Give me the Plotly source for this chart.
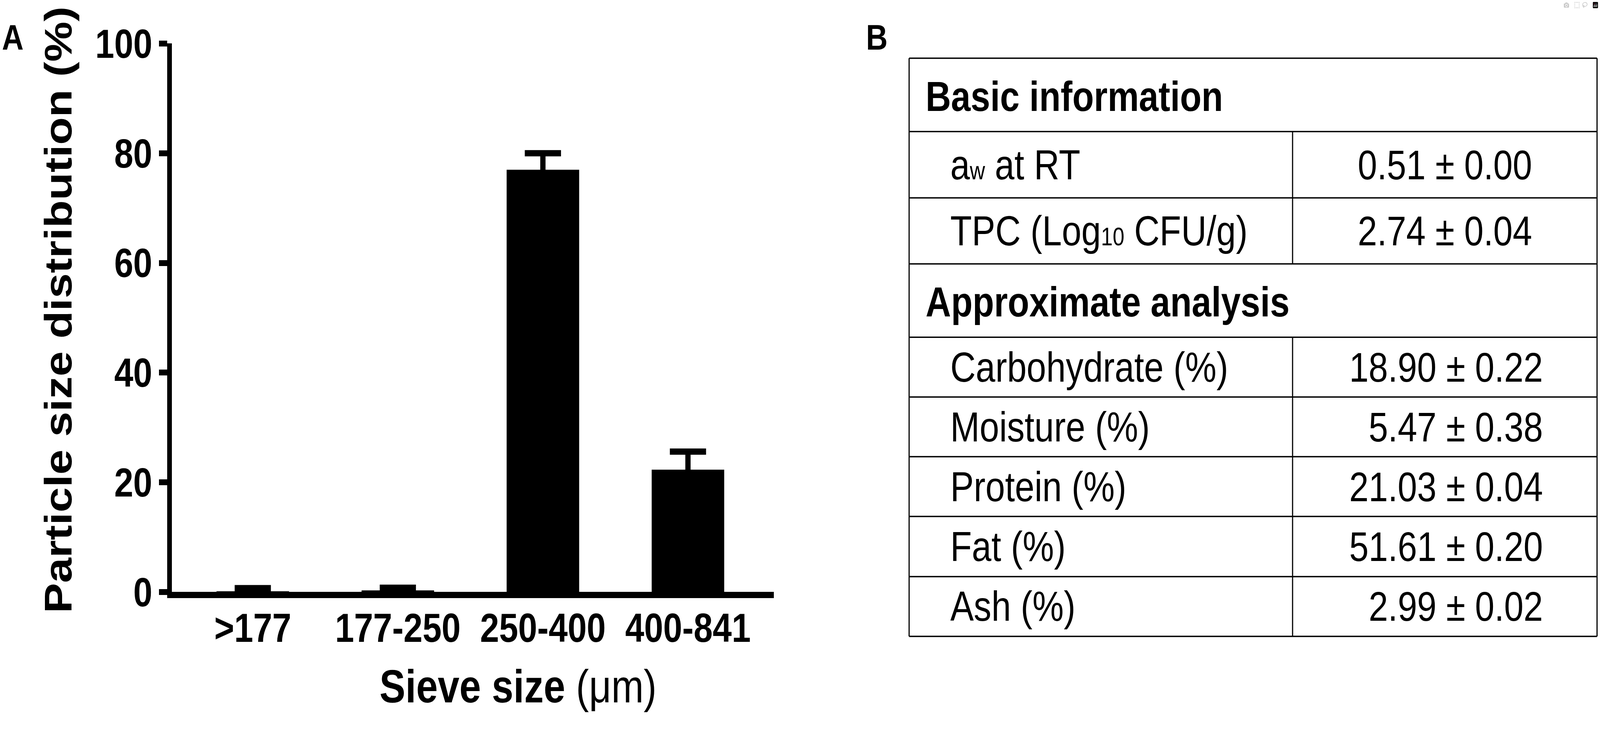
import plotly.graph_objects as go

# ---------------- data ----------------
categories = [">177", "177-250", "250-400", "400-841"]
means = [0.1, 0.3, 77.0, 22.3]
errors = [0.6, 0.47, 3.0, 3.3]
y_ticks = [0, 20, 40, 60, 80, 100]

table_labels = [
    "Basic information",
    "a<span style='font-size:64px'>w</span> at RT",
    "TPC (Log<span style='font-size:64px'>10</span> CFU/g)",
    "Approximate analysis",
    "Carbohydrate (%)",
    "Moisture (%)",
    "Protein (%)",
    "Fat (%)",
    "Ash (%)",
]
table_values = [None, "0.51 ± 0.00", "2.74 ± 0.04", None,
                "18.90 ± 0.22", "5.47 ± 0.38", "21.03 ± 0.04",
                "51.61 ± 0.20", "2.99 ± 0.02"]
table_header = [True, False, False, True, False, False, False, False, False]

# ---------------- layout constants ----------------
W, H = 4861, 1884
FONT = "Liberation Sans, Arial, Helvetica, sans-serif"
PL, PR, PT, PB = 522.5, 2351, 57, 1553        # bar plot area (px)
TL, TR, TT = 2762, 4852, 97                    # table box (px)
ROW_H = [200, 181, 180, 200, 163, 163, 163, 164, 163]
COL_X = 3927
TB = TT + sum(ROW_H)

fig = go.Figure()

fig.add_trace(go.Bar(
    x=categories, y=means, width=0.5,
    marker=dict(color="black", line=dict(width=0)),
    xaxis="x", yaxis="y", showlegend=False, hoverinfo="skip",
))

# error bars (upper only): stem from the base to mean+error
fig.add_trace(go.Scatter(
    x=categories, y=[0] * len(means), mode="markers",
    marker=dict(size=1, opacity=0),
    error_y=dict(type="data", symmetric=False,
                 array=[m + e for m, e in zip(means, errors)],
                 arrayminus=[0] * len(means), color="black",
                 thickness=16, width=55),
    xaxis="x", yaxis="y", showlegend=False, hoverinfo="skip",
))

# invisible helper trace for table axes
fig.add_trace(go.Scatter(x=[TL], y=[TT], mode="markers",
                         marker=dict(opacity=0), xaxis="x2", yaxis="y2",
                         showlegend=False, hoverinfo="skip"))

shapes = []
annotations = []

bounds = [TT]
for h in ROW_H:
    bounds.append(bounds[-1] + h)
lw = 3.5
for yb in bounds:
    shapes.append(dict(type="line", xref="x2", yref="y2", x0=TL, x1=TR,
                       y0=yb, y1=yb, line=dict(color="black", width=lw)))
for xv in (TL, TR):
    shapes.append(dict(type="line", xref="x2", yref="y2", x0=xv, x1=xv,
                       y0=TT, y1=TB, line=dict(color="black", width=lw)))
for i, hdr in enumerate(table_header):
    if not hdr:
        shapes.append(dict(type="line", xref="x2", yref="y2", x0=COL_X, x1=COL_X,
                           y0=bounds[i], y1=bounds[i + 1],
                           line=dict(color="black", width=lw)))

section = 0
for i, (lab, val, hdr) in enumerate(zip(table_labels, table_values, table_header)):
    yc = (bounds[i] + bounds[i + 1]) / 2
    if hdr:
        section += 1
        annotations.append(dict(xref="x2", yref="y2", x=2810, y=yc + 4,
                                text=lab, showarrow=False, xanchor="left",
                                yanchor="middle",
                                font=dict(family=FONT, size=107, color="black",
                                          weight="bold")))
    else:
        annotations.append(dict(xref="x2", yref="y2", x=2885, y=yc,
                                text=lab, showarrow=False, xanchor="left",
                                yanchor="middle",
                                font=dict(family=FONT, size=107, color="black")))
        if section == 1:
            annotations.append(dict(xref="x2", yref="y2", x=(COL_X + TR) / 2, y=yc,
                                    text=val, showarrow=False, xanchor="center",
                                    yanchor="middle",
                                    font=dict(family=FONT, size=106, color="black")))
        else:
            annotations.append(dict(xref="x2", yref="y2", x=4690, y=yc,
                                    text=val, showarrow=False, xanchor="right",
                                    yanchor="middle",
                                    font=dict(family=FONT, size=106, color="black")))

annotations.append(dict(xref="paper", yref="paper", x=4 / W, y=1 - 40 / H,
                        text="A", showarrow=False, xanchor="left", yanchor="middle",
                        font=dict(family=FONT, size=91, color="black", weight="bold")))
annotations.append(dict(xref="paper", yref="paper", x=2629 / W, y=1 - 40 / H,
                        text="B", showarrow=False, xanchor="left", yanchor="middle",
                        font=dict(family=FONT, size=91, color="black", weight="bold")))
annotations.append(dict(xref="paper", yref="paper", x=177 / W, y=1 - 784 / H,
                        text="Particle size distribution (%)", textangle=-90,
                        showarrow=False, xanchor="center", yanchor="middle",
                        font=dict(family=FONT, size=116, color="black", weight="bold")))
annotations.append(dict(xref="paper", yref="paper", x=1574 / W, y=1 - 1811 / H,
                        text="<b>Sieve size </b>(μm)",
                        showarrow=False, xanchor="center", yanchor="middle",
                        font=dict(family=FONT, size=118, color="black")))

fig.update_layout(
    width=W, height=H, autosize=False,
    margin=dict(l=0, r=0, t=0, b=0, pad=0),
    paper_bgcolor="white", plot_bgcolor="white",
    xaxis=dict(domain=[PL / W, PR / W], type="category",
               range=[-0.557, 3.592], showline=True, linewidth=16,
               linecolor="black", ticks="", showgrid=False, zeroline=False,
               ticklabeloverflow="allow", ticklabelstandoff=-13,
               tickfont=dict(family=FONT, size=104, color="black", weight="bold"),
               fixedrange=True),
    yaxis=dict(domain=[1 - PB / H, 1 - PT / H], range=[0, 100],
               tickvals=y_ticks, ticktext=[str(v) for v in y_ticks],
               showline=True, linewidth=15, linecolor="black",
               ticks="outside", ticklen=24, tickwidth=15, tickcolor="black",
               showgrid=False, zeroline=False, ticklabeloverflow="allow",
               tickfont=dict(family=FONT, size=104, color="black", weight="bold"),
               fixedrange=True),
    xaxis2=dict(domain=[(TL - 10) / W, (TR + 8) / W], range=[TL - 10, TR + 8],
                visible=False, fixedrange=True, anchor="y2"),
    yaxis2=dict(domain=[1 - (TB + 10) / H, 1 - (TT - 10) / H],
                range=[TB + 10, TT - 10], visible=False, fixedrange=True,
                anchor="x2"),
    shapes=shapes,
    annotations=annotations,
)

# The browser viewport may be narrower than the requested size; fit the
# figure to the viewport so the whole layout stays visible in its proportions.
post = """
document.documentElement.style.margin='0px';
document.documentElement.style.overflow='hidden';
document.body.style.margin='0px';
document.body.style.overflow='hidden';
var gd = document.querySelector('.plotly-graph-div');
var sx = window.innerWidth / 4861, sy = window.innerHeight / 1884;
if (Math.abs(sx - 1) > 0.005 || Math.abs(sy - 1) > 0.005) {
  gd.style.transformOrigin = '0 0';
  gd.style.transform = 'scale(' + sx + ',' + sy + ')';
}
"""
fig.write_html("out.html", post_script=post)
